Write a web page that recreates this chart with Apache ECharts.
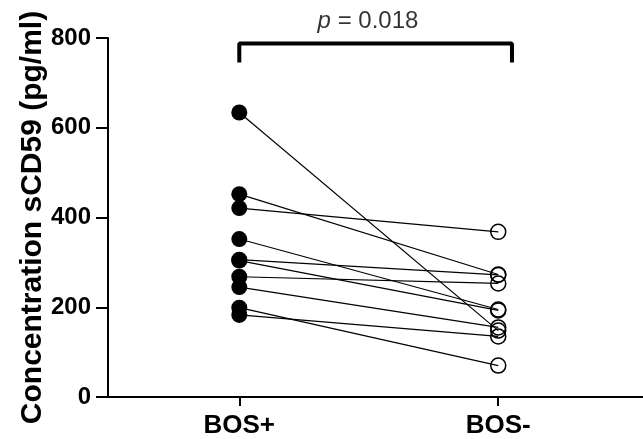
<!DOCTYPE html>
<html>
<head>
<meta charset="utf-8">
<script src="https://cdn.jsdelivr.net/npm/echarts@6/dist/echarts.min.js"></script>
<style>
  html, body { margin: 0; padding: 0; background: #fff; }
  #chart { width: 643px; height: 439px; }
</style>
</head>
<body>
<div id="chart"></div>
<script>
// paired samples, BOS+ (filled) vs BOS- (open)
var groups = ['BOS+', 'BOS-'];
var bosPos = [634, 452, 421, 352, 306, 304, 268, 245, 199, 183];
var bosNeg = [148, 273, 368, 195, 272, 193, 253, 155, 70, 135];
var yTicks = [0, 200, 400, 600, 800];
var pText = '0.018';

var font = 'Liberation Sans, Arial, sans-serif';
var myChart = echarts.init(document.getElementById('chart'));

var series = [];
for (var i = 0; i < bosPos.length; i++) {
    series.push({
        type: 'line',
        data: [[1, bosPos[i]], [2, bosNeg[i]]],
        symbol: 'none',
        lineStyle: { color: '#000', width: 1.2 },
        silent: true,
        z: 1
    });
}
series.push({
    type: 'scatter',
    data: bosPos.map(function (v) { return [1, v]; }),
    symbolSize: 16,
    itemStyle: { color: '#000', opacity: 1 },
    z: 3
});
series.push({
    type: 'scatter',
    data: bosNeg.map(function (v) { return [2, v]; }),
    symbolSize: 15,
    itemStyle: { color: 'rgba(0,0,0,0)', borderColor: '#000', borderWidth: 1.5, opacity: 1 },
    z: 3
});
// significance bracket
series.push({
    type: 'line',
    data: [[1, 750], [1, 788], [2.053, 788], [2.053, 750]],
    symbol: 'none',
    clip: false,
    lineStyle: { color: '#000', width: 4, cap: 'square' },
    z: 2
});
series.push({
    type: 'scatter',
    data: [[1.497, 837]],
    symbolSize: 0,
    clip: false,
    label: {
        show: true,
        position: 'inside',
        formatter: '{i|p} = ' + pText,
        fontFamily: font,
        fontSize: 24,
        color: '#000',
        rich: { i: { fontStyle: 'italic', fontFamily: font, fontSize: 24, color: '#000' } }
    }
});

var option = {
    animation: false,
    grid: { left: 108, right: 0, top: 38, bottom: 41 },
    xAxis: {
        type: 'value',
        min: 0.493,
        max: 2.559,
        splitLine: { show: false },
        axisLine: { lineStyle: { color: '#000', width: 2 } },
        axisTick: { customValues: [1, 2], length: 9, lineStyle: { color: '#000', width: 2 } },
        axisLabel: {
            customValues: [1, 2],
            formatter: function (v) { return groups[Math.round(v) - 1]; },
            margin: 16,
            color: '#000',
            fontFamily: font,
            fontWeight: 'bold',
            fontSize: 26
        }
    },
    yAxis: {
        type: 'value',
        min: yTicks[0],
        max: yTicks[yTicks.length - 1],
        interval: 200,
        name: 'Concentration sCD59 (pg/ml)',
        nameLocation: 'middle',
        nameGap: 60,
        nameMoveOverlap: false,
        nameTextStyle: { color: '#000', fontFamily: font, fontWeight: 'bold', fontSize: 30 },
        splitLine: { show: false },
        axisLine: { show: true, lineStyle: { color: '#000', width: 2 } },
        axisTick: { length: 12, lineStyle: { color: '#000', width: 2 } },
        axisLabel: { margin: 17, color: '#000', fontFamily: font, fontWeight: 'bold', fontSize: 24 }
    },
    series: series
};
myChart.setOption(option);
</script>
</body>
</html>
